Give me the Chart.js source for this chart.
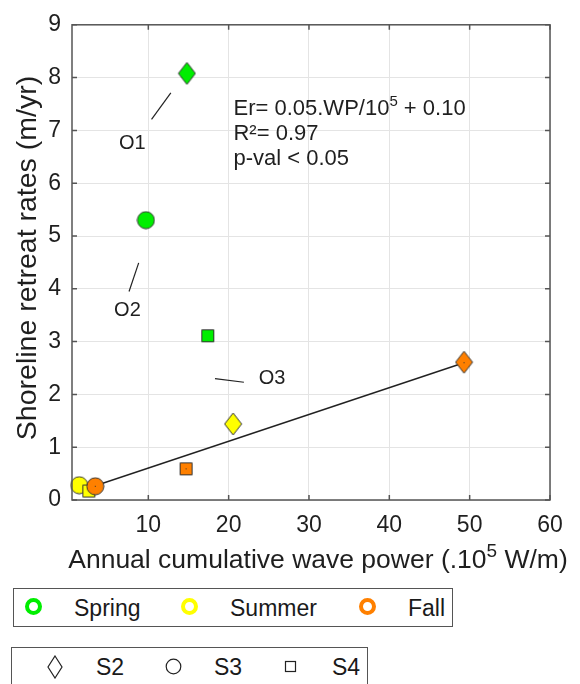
<!DOCTYPE html>
<html><head><meta charset="utf-8">
<script src="https://cdn.jsdelivr.net/npm/chart.js@4.4.1/dist/chart.umd.min.js"></script>
<style>
html,body{margin:0;padding:0;background:#fff;}
#wrap{position:relative;width:580px;height:684px;overflow:hidden;}
#c{position:absolute;left:0;top:0;}
.leg{position:absolute;border:1.5px solid #555;background:#fff;box-sizing:border-box;font-family:"Liberation Sans",Arial,sans-serif;font-size:23px;color:#1a1a1a;}
.leg .t{position:absolute;top:50%;transform:translateY(-50%);line-height:1;white-space:nowrap;}
.leg .m{position:absolute;}
</style></head><body>
<div id="wrap">
<canvas id="c" width="580" height="684"></canvas>
<div class="leg" id="leg1" style="left:13px;top:588px;width:440px;height:39px;"></div>
<div class="leg" id="leg2" style="left:11px;top:647px;width:357px;height:50px;"></div>
</div>
<script>
// ---- data ----
const seasons = ['Spring', 'Summer', 'Fall'];
const sites = ['S2', 'S3', 'S4'];
const springX = [14.8, 9.7, 17.4];
const springY = [8.08, 5.30, 3.11];
const summerX = [20.55, 1.4, 2.6];
const summerY = [1.44, 0.28, 0.17];
const fallX = [49.3, 3.4, 14.7];
const fallY = [2.61, 0.26, 0.59];
const fitX = [3.4, 49.3];
const fitY = [0.27, 2.60];
const xTicks = [10, 20, 30, 40, 50, 60];
const yTicks = [0, 1, 2, 3, 4, 5, 6, 7, 8, 9];
const outlierLabels = ['O1', 'O2', 'O3'];
const outlierLabelX = [8.0, 7.4, 25.4];
const outlierLabelY = [6.75, 3.59, 2.31];
const leaderX = [[10.4, 12.8], [7.6, 8.8], [18.3, 21.9]];
const leaderY = [[7.21, 7.71], [3.95, 4.49], [2.30, 2.23]];
const eqLines = [[['Er= 0.05.WP/10', false], ['5', true], [' + 0.10', false]], [['R\u00b2= 0.97', false]], [['p-val < 0.05', false]]];
const eqX = 20.6, eqY = 7.39;
const xTitle = [['Annual cumulative wave power (.10', false], ['5', true], [' W/m)', false]];
const yTitle = 'Shoreline retreat rates (m/yr)';

// ---- style ----
const FONT = '"Liberation Sans", Arial, sans-serif';
const TXT = '#1f1f1f';
const AX = '#555';
const seasonColors = ['#00ee00', '#ffff00', '#ff8000'];
const shapes = ['diamond', 'circle', 'square'];

function marker(shape, fill, dot) {
  const c = document.createElement('canvas');
  let w, h;
  if (shape === 'diamond') { w = 19; h = 24; } else if (shape === 'circle') { w = 19; h = 19; } else { w = 15; h = 15; }
  c.width = w; c.height = h;
  const g = c.getContext('2d');
  g.fillStyle = fill; g.strokeStyle = '#333'; g.lineWidth = 1;
  g.beginPath();
  if (shape === 'diamond') { g.moveTo(w / 2, 1); g.lineTo(w - 1, h / 2); g.lineTo(w / 2, h - 1); g.lineTo(1, h / 2); g.closePath(); }
  else if (shape === 'circle') { g.arc(w / 2, h / 2, w / 2 - 1, 0, Math.PI * 2); }
  else { g.rect(1.5, 1.5, w - 3, h - 3); }
  g.fill(); g.stroke();
  if (dot) { g.fillStyle = '#333'; g.fillRect(Math.floor(w / 2), Math.floor(h / 2), 1, 1); }
  return c;
}

const seriesX = [springX, summerX, fallX];
const seriesY = [springY, summerY, fallY];

const datasets = [];
datasets.push({
  type: 'line', label: 'fit', data: fitX.map((x, i) => ({ x, y: fitY[i] })),
  borderColor: '#222', borderWidth: 1.4, pointRadius: 0, order: 20, clip: false
});
leaderX.forEach((lx, k) => {
  datasets.push({
    type: 'line', label: 'lead' + k, data: lx.map((x, i) => ({ x, y: leaderY[k][i] })),
    borderColor: '#222', borderWidth: 1.2, pointRadius: 0, order: 21, clip: false
  });
});
seasons.forEach((s, k) => {
  datasets.push({
    type: 'scatter', label: s,
    data: seriesX[k].map((x, i) => ({ x, y: seriesY[k][i] })),
    pointStyle: shapes.map(sh => marker(sh, seasonColors[k], k === 2)),
    pointRadius: 9, order: 10 - k, clip: false
  });
});

function drawParts(ctx, parts, x, y, size, align) {
  ctx.save();
  ctx.textBaseline = 'alphabetic';
  ctx.textAlign = 'left';
  const supSize = Math.round(size * 0.7);
  let total = 0;
  const widths = parts.map(([t, sup]) => {
    ctx.font = (sup ? supSize : size) + 'px ' + FONT;
    const w = ctx.measureText(t).width; total += w; return w;
  });
  let cx = align === 'center' ? x - total / 2 : x;
  parts.forEach(([t, sup], i) => {
    ctx.font = (sup ? supSize : size) + 'px ' + FONT;
    ctx.fillText(t, cx, sup ? y - size * 0.42 : y);
    cx += widths[i];
  });
  ctx.restore();
}

const framePlugin = {
  id: 'frame',
  afterDraw(chart) {
    const { ctx, chartArea: a, scales } = chart;
    const xs = scales.x, ys = scales.y;
    ctx.save();
    ctx.strokeStyle = AX; ctx.lineWidth = 1.5;
    ctx.strokeRect(a.left, a.top, a.right - a.left, a.bottom - a.top);
    ctx.beginPath();
    xTicks.forEach(v => {
      const px = xs.getPixelForValue(v);
      ctx.moveTo(px, a.bottom); ctx.lineTo(px, a.bottom - 5);
      ctx.moveTo(px, a.top); ctx.lineTo(px, a.top + 5);
    });
    yTicks.forEach(v => {
      const py = ys.getPixelForValue(v);
      ctx.moveTo(a.left, py); ctx.lineTo(a.left + 5, py);
      ctx.moveTo(a.right, py); ctx.lineTo(a.right - 5, py);
    });
    ctx.stroke();
    ctx.fillStyle = TXT;
    // outlier labels
    ctx.font = '20px ' + FONT;
    ctx.textAlign = 'center'; ctx.textBaseline = 'middle';
    outlierLabels.forEach((t, i) => {
      ctx.fillText(t, xs.getPixelForValue(outlierLabelX[i]), ys.getPixelForValue(outlierLabelY[i]));
    });
    // equation
    const ex = xs.getPixelForValue(eqX), ey = ys.getPixelForValue(eqY);
    eqLines.forEach((parts, i) => drawParts(ctx, parts, ex, ey + 5 + i * 25.3, 22, 'left'));
    // axis titles
    drawParts(ctx, xTitle, 318, 568, 26.5, 'center');
    ctx.save();
    ctx.translate(28, 258);
    ctx.rotate(-Math.PI / 2);
    ctx.font = '28.5px ' + FONT;
    ctx.textAlign = 'center'; ctx.textBaseline = 'middle';
    ctx.fillText(yTitle, 0, 0);
    ctx.restore();
    ctx.restore();
  }
};

new Chart(document.getElementById('c'), {
  data: { datasets },
  options: {
    responsive: false, animation: false, devicePixelRatio: 1,
    layout: { padding: { left: 0, right: 30, top: 20, bottom: 0 } },
    plugins: { legend: { display: false }, tooltip: { enabled: false } },
    scales: {
      x: {
        type: 'linear', min: 0.5, max: 60,
        afterBuildTicks: s => { s.ticks = xTicks.map(v => ({ value: v })); },
        afterFit: s => { s.height = 184; },
        grid: { color: '#e4e4e4', lineWidth: 1, drawTicks: false },
        border: { display: false },
        ticks: { autoSkip: false, maxRotation: 0, padding: 12, color: TXT, font: { family: FONT, size: 23 } }
      },
      y: {
        type: 'linear', min: 0, max: 9,
        afterBuildTicks: s => { s.ticks = yTicks.map(v => ({ value: v })); },
        afterFit: s => { s.width = 72; },
        grid: { color: '#e4e4e4', lineWidth: 1, drawTicks: false },
        border: { display: false },
        ticks: { autoSkip: false, padding: 11, color: TXT, font: { family: FONT, size: 23 } }
      }
    }
  },
  plugins: [framePlugin]
});

// ---- legends (HTML) ----
const leg1Pos = [[19, 60], [175, 216], [353, 394]];
const leg1 = document.getElementById('leg1');
seasons.forEach((s, k) => {
  const m = document.createElement('div');
  m.className = 'm';
  m.style.cssText = `left:${leg1Pos[k][0] - 8.5}px;top:${19 - 8.5 - 1.5}px;width:17px;height:17px;border-radius:50%;box-sizing:border-box;border:4.5px solid ${seasonColors[k]};`;
  leg1.appendChild(m);
  const t = document.createElement('span');
  t.className = 't'; t.textContent = s; t.style.left = leg1Pos[k][1] + 'px';
  leg1.appendChild(t);
});
const leg2Pos = [[43, 84], [161, 202], [278, 320]];
const leg2 = document.getElementById('leg2');
const svgShapes = [
  '<svg width="16" height="24"><polygon points="8,1 15,12 8,23 1,12" fill="none" stroke="#222" stroke-width="1.2"/></svg>',
  '<svg width="17" height="17"><circle cx="8.5" cy="8.5" r="7.3" fill="none" stroke="#222" stroke-width="1.2"/></svg>',
  '<svg width="13" height="13"><rect x="1.5" y="1.5" width="10" height="10" fill="none" stroke="#222" stroke-width="1.2"/></svg>'
];
const svgSize = [[16, 24], [17, 17], [13, 13]];
sites.forEach((s, k) => {
  const m = document.createElement('div');
  m.className = 'm';
  m.innerHTML = svgShapes[k];
  m.style.left = (leg2Pos[k][0] - svgSize[k][0] / 2) + 'px';
  m.style.top = (20 - 1.5 - svgSize[k][1] / 2) + 'px';
  m.style.lineHeight = '0';
  leg2.appendChild(m);
  const t = document.createElement('span');
  t.className = 't'; t.textContent = s; t.style.left = leg2Pos[k][1] + 'px';
  t.style.top = (20 - 1.5) + 'px';
  leg2.appendChild(t);
});
</script>
</body></html>
